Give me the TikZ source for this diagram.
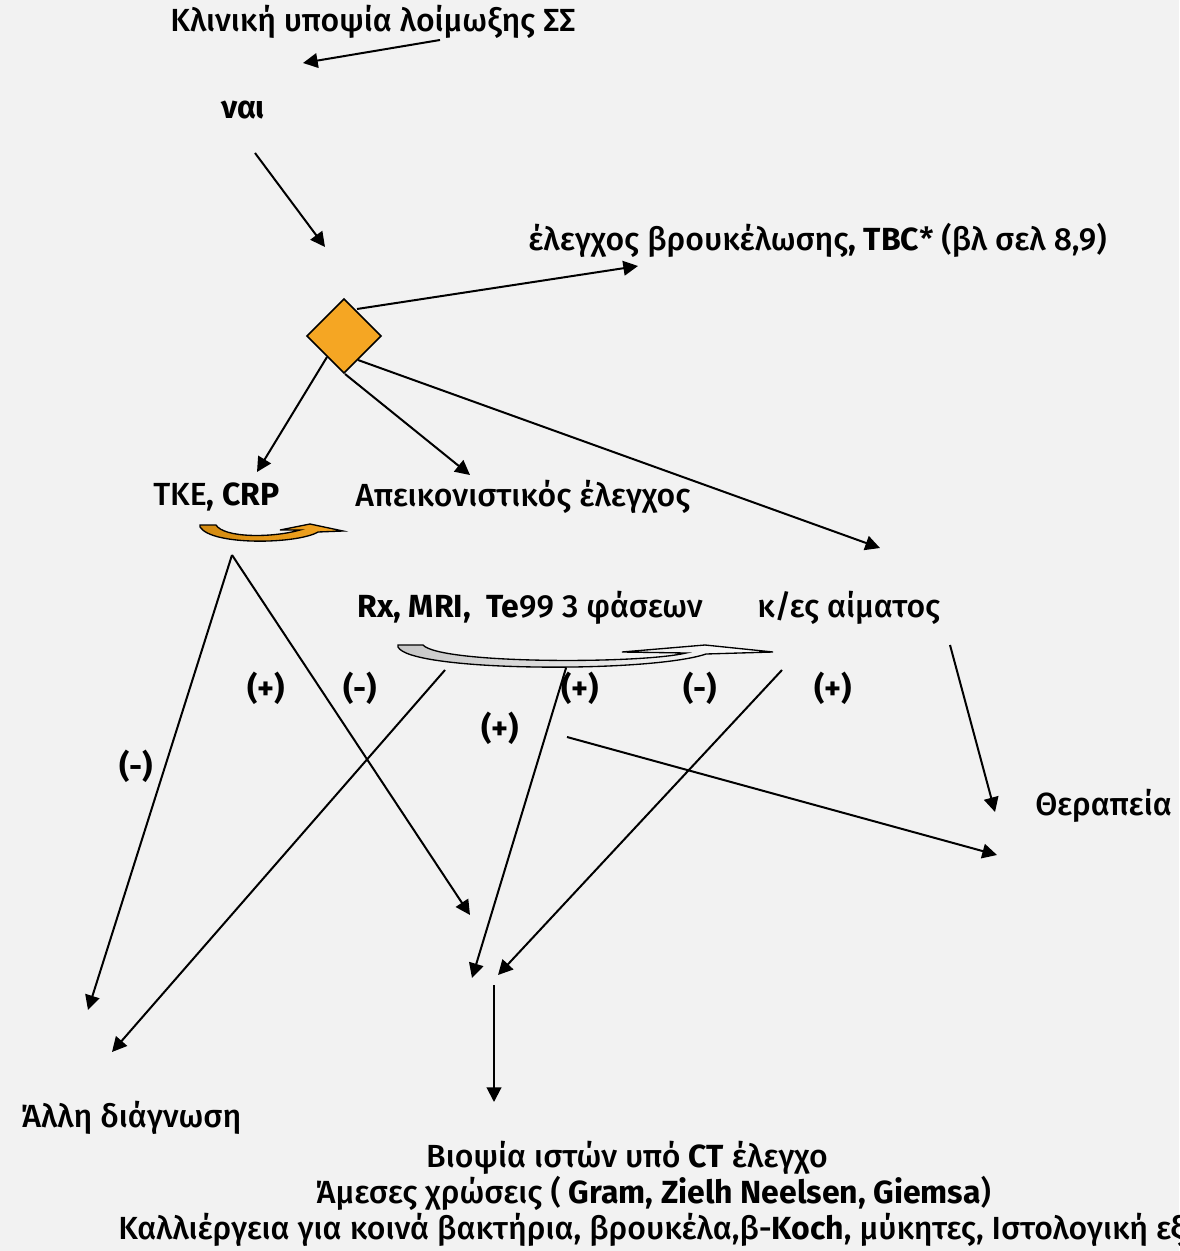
\documentclass[tikz,border=0pt]{standalone}
\usepackage{fontspec}
\setmainfont{Fira Sans}[UprightFont={* Medium},BoldFont={* Bold}]
\usetikzlibrary{arrows.meta,shapes.geometric}
\definecolor{bg}{HTML}{F2F2F2}
\definecolor{decor}{HTML}{F5A623}
\definecolor{decordark}{HTML}{D38A10}
\begin{document}
\begin{tikzpicture}[x=0.75pt,y=-0.75pt,
  lbl/.style={inner sep=0pt,font=\fontsize{24}{28}\selectfont},
  arr/.style={line width=1.5pt,-{Triangle[length=11pt,width=11pt]}},
  ln/.style={line width=1.5pt}]
\fill[bg] (0,0) rectangle (1179,1251);
\clip (0,0) rectangle (1179,1251);

% texts
\node[lbl] (title) at (373,22) {Κλινική υποψία λοίμωξης ΣΣ};
\node[lbl,font=\fontsize{24}{28}\selectfont\bfseries] (yes) at (243,110) {ναι};
\node[lbl,anchor=west] (bruc) at (528,240) {έλεγχος βρουκέλωσης\textbf{, TBC}* (βλ σελ 8,9)};
\node[lbl,anchor=west] (tke) at (153,497) {ΤΚΕ\textbf{, CRP}};
\node[lbl,anchor=west] (imag) at (355,497) {Απεικονιστικός έλεγχος};
\node[lbl,anchor=west] (rx) at (357,608) {\textbf{Rx, MRI,\ \ Te}99 3 φάσεων};
\node[lbl,anchor=west] (blood) at (757,608) {κ/ες αίματος};
\node[lbl,anchor=west] (ther) at (1035,806) {Θεραπεία};
\node[lbl,anchor=west] (other) at (20,1118) {Άλλη διάγνωση};
\node[lbl] (bx1) at (627,1158) {Βιοψία ιστών υπό \textbf{CT} έλεγχο};
\node[lbl] (bx2) at (653,1193) {Άμεσες χρώσεις ( \textbf{Gram, Zielh Neelsen, Giemsa})};
\node[lbl,anchor=west] (bx3) at (118,1230) {Καλλιέργεια για κοινά βακτήρια, βρουκέλα,β-\textbf{Koch}, μύκητες, Ιστολογική εξέταση};

% sign labels
\begin{scope}[every node/.style={lbl,font=\fontsize{24}{28}\selectfont\bfseries}]
\node (s1) at (136,766) {(-)};
\node (s2) at (266,688) {(+)};
\node (s3) at (360,688) {(-)};
\node (s4) at (580,688) {(+)};
\node (s5) at (700,688) {(-)};
\node (s6) at (833,688) {(+)};
\node (s7) at (500,728) {(+)};
\end{scope}

% decision diamond
\node[diamond,draw=black,line width=1.2pt,fill=decor,
  inner sep=0pt,minimum size=56pt] (dec) at (344,336) {};

% connector end points
\coordinate (t0) at (440,40);   \coordinate (t1) at (303,63);
\coordinate (y0) at (255,153);  \coordinate (y1) at (325,247);
\coordinate (d0) at (357,309);  \coordinate (d1) at (638,266);
\coordinate (d2) at (327,357);  \coordinate (d3) at (257,472);
\coordinate (d4) at (345,374);  \coordinate (d5) at (470,475);
\coordinate (d6) at (358,360);  \coordinate (d7) at (880,548);
\coordinate (k0) at (232,555);  \coordinate (k1) at (88,1010);
\coordinate (k2) at (470,915);
\coordinate (r0) at (445,670);  \coordinate (r1) at (112,1052);
\coordinate (r2) at (566,668);  \coordinate (r3) at (472,978);
\coordinate (b0) at (782,670);  \coordinate (b1) at (498,975);
\coordinate (b2) at (950,645);  \coordinate (b3) at (995,812);
\coordinate (p0) at (567,737);  \coordinate (p1) at (997,855);
\coordinate (v0) at (494,985);  \coordinate (v1) at (494,1102);

% connectors
\draw[arr] (t0) -- (t1);
\draw[arr] (y0) -- (y1);
\draw[arr] (d0) -- (d1);
\draw[arr] (d2) -- (d3);
\draw[arr] (d4) -- (d5);
\draw[arr] (d6) -- (d7);
\draw[arr] (k0) -- (k1);
\draw[arr] (k0) -- (k2);
\draw[arr] (r0) -- (r1);
\draw[arr] (r2) -- (r3);
\draw[arr] (b0) -- (b1);
\draw[arr] (b2) -- (b3);
\draw[arr] (p0) -- (p1);
\draw[arr] (v0) -- (v1);

% curved block arrows
\draw[line width=1pt,left color=decordark,right color=decor]
  (200,525) -- (216,525) .. controls (224,538) and (272,538) .. (300,530)
  -- (280,530) -- (310,524) -- (343,531) -- (318,532)
  .. controls (298,544) and (212,546) .. (200,527) -- cycle;
\draw[line width=1pt,left color=black!22,right color=white]
  (398,645) -- (423,645) .. controls (440,664) and (640,664) .. (686,653)
  -- (622,652) -- (705,645) -- (773,652) -- (706,654)
  .. controls (650,673) and (410,672) .. (398,647) -- cycle;
\end{tikzpicture}
\end{document}
